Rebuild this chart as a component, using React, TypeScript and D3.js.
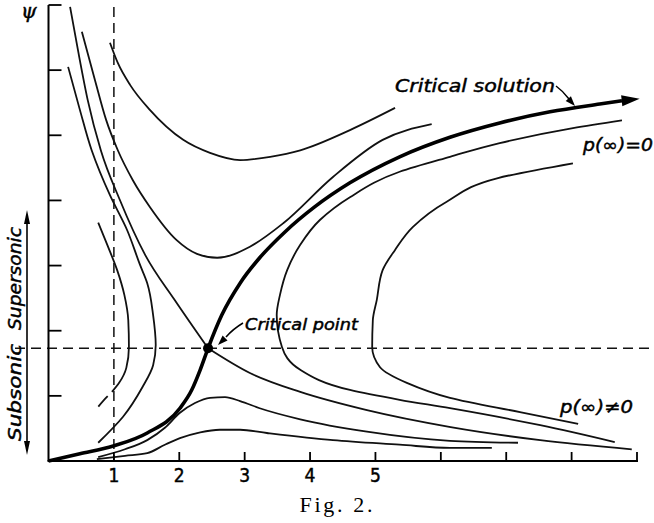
import * as d3 from "d3";

type Pt = [number, number];

// axis ticks (r on x, psi on y)
const xTicks = [1, 2, 3, 4, 5, 6, 7, 8, 9];
const xTickLabels = ["1", "2", "3", "4", "5"];
const yTicks = [1, 2, 3, 4, 5, 6, 7];

// critical point and the two dashed guides
const criticalPoint: Pt = [2.44, 1.73];
const guideX = 1;
const guidePsi = 1.73;

// thick critical solution, ends in an arrow
const criticalSolution: Pt[] = [
  [0, 0], [0.48, 0.11], [0.99, 0.23], [1.51, 0.43], [2.01, 0.81], [2.19, 1.09],
  [2.32, 1.4], [2.44, 1.73], [2.65, 2.24], [2.93, 2.73], [3.23, 3.12],
  [3.62, 3.52], [4.07, 3.9], [4.61, 4.27], [5.37, 4.67], [6.14, 4.97],
  [6.9, 5.19], [7.67, 5.36], [8.43, 5.48], [8.77, 5.53],
];
const criticalTip: Pt = [9.04, 5.56];

// the other critical curve, drawn in two halves meeting at the X point
const separatrixIn: Pt[] = [
  [0.33, 6.97], [0.45, 6.31], [0.6, 5.54], [0.8, 4.77], [1.09, 4.01],
  [1.48, 3.16], [1.93, 2.47], [2.44, 1.73],
];
const separatrixOut: Pt[] = [
  [2.44, 1.73], [3.08, 1.35], [3.85, 1.06], [4.87, 0.78], [6.15, 0.52],
  [7.52, 0.32], [8.92, 0.18],
];

const upperBranch: Pt[] = [
  [0.94, 6.42], [1.06, 6.11], [1.25, 5.77], [1.55, 5.39], [2.06, 4.93],
  [2.47, 4.73], [2.93, 4.62], [3.39, 4.67], [3.85, 4.77], [4.61, 5.08],
  [5.3, 5.42],
];

const lowerBranch: Pt[] = [
  [0.51, 6.59], [0.71, 5.85], [0.88, 5.24], [1.06, 4.77], [1.29, 4.31],
  [1.55, 3.9], [1.96, 3.39], [2.27, 3.18], [2.58, 3.12], [3.08, 3.29],
  [3.59, 3.65], [4.35, 4.36], [5.11, 4.93], [5.86, 5.17],
];

const humpHigh: Pt[] = [
  [0.76, 0.06], [1.17, 0.18], [1.51, 0.32], [1.78, 0.51], [2.01, 0.74],
  [2.24, 0.89], [2.47, 0.97], [2.7, 0.98], [2.93, 0.92], [3.23, 0.81],
  [3.85, 0.64], [4.87, 0.45], [6.14, 0.31], [7.18, 0.28],
];

const humpLow: Pt[] = [
  [0.74, 0.03], [1.17, 0.08], [1.51, 0.12], [1.78, 0.25], [2.01, 0.35],
  [2.32, 0.44], [2.62, 0.48], [2.93, 0.48], [3.34, 0.43], [4.35, 0.32],
  [5.37, 0.25], [6.14, 0.2], [6.78, 0.2],
];

// loops that turn back in r (monotone in psi)
const innerLoop: Pt[] = [
  [0.76, 3.66], [0.91, 3.29], [1.05, 2.93], [1.16, 2.55], [1.22, 2.16],
  [1.23, 1.75], [1.19, 1.43], [1.08, 1.2], [0.97, 1.06],
];
const innerLoopDashed: Pt[] = [[0.97, 1.06], [0.89, 0.98], [0.74, 0.81]];

const middleLoop: Pt[] = [
  [0.3, 6.05], [0.48, 5.39], [0.66, 4.77], [0.94, 4.08], [1.2, 3.55],
  [1.4, 3.01], [1.51, 2.73], [1.6, 2.24], [1.64, 1.78], [1.6, 1.47],
  [1.44, 1.14], [1.14, 0.68], [0.76, 0.28],
];

const outerLoop: Pt[] = [
  [8.77, 5.23], [8.02, 5.11], [6.9, 4.88], [6.14, 4.67], [5.37, 4.44],
  [4.61, 4.05], [4.15, 3.7], [3.85, 3.32], [3.65, 2.93], [3.54, 2.55],
  [3.49, 2.24], [3.57, 1.75], [3.85, 1.4], [4.61, 1.09], [5.37, 0.94],
  [6.14, 0.81], [7.52, 0.55], [8.66, 0.29],
];

const farLoop: Pt[] = [
  [8.02, 4.57], [6.86, 4.34], [6.09, 3.98], [5.57, 3.59], [5.3, 3.24],
  [5.11, 2.93], [5.02, 2.47], [4.96, 2.16], [4.95, 1.75], [5.07, 1.44],
  [5.48, 1.2], [6.14, 0.97], [7.21, 0.75], [8.1, 0.57],
];

const curvesInR = [upperBranch, lowerBranch, separatrixIn, separatrixOut, humpHigh, humpLow];
const curvesInPsi = [innerLoop, middleLoop, outerLoop, farLoop];

const W = 654;
const H = 523;

const x = d3.scaleLinear().domain([0, 9]).range([48.5, 637]);
const y = d3.scaleLinear().domain([0, 7]).range([461, 5]);

const lineR = d3
  .line<Pt>()
  .x((d) => x(d[0]))
  .y((d) => y(d[1]))
  .curve(d3.curveMonotoneX);

const linePsi = d3
  .line<Pt>()
  .x((d) => x(d[0]))
  .y((d) => y(d[1]))
  .curve(d3.curveMonotoneY);

function arrowHead(tx: number, ty: number, fx: number, fy: number, len: number, half: number) {
  const dx = tx - fx;
  const dy = ty - fy;
  const n = Math.hypot(dx, dy) || 1;
  const ux = dx / n;
  const uy = dy / n;
  const bx = tx - ux * len;
  const by = ty - uy * len;
  return `M${tx},${ty}L${bx - uy * half},${by + ux * half}L${bx + uy * half},${by - ux * half}Z`;
}

const labelFont = "'DejaVu Sans', sans-serif";
const ink = { fill: "#000", stroke: "#000", strokeWidth: 0.45 };

export default function App() {
  const last = criticalSolution[criticalSolution.length - 1];
  const x0 = x(0);
  const y0 = y(0);

  return (
    <svg
      width={W}
      height={H}
      style={{ position: "absolute", left: 0, top: 0, background: "#fff" }}
    >
      {/* dashed guides */}
      <line
        x1={x(guideX)} x2={x(guideX)} y1={y(7) + 2} y2={y0}
        stroke="#111" strokeWidth={1.5} strokeDasharray="10 6"
      />
      <line
        x1={15} x2={W} y1={y(guidePsi)} y2={y(guidePsi)}
        stroke="#111" strokeWidth={1.5} strokeDasharray="10 6"
      />

      {/* family of solutions */}
      {curvesInR.map((c, i) => (
        <path key={`r${i}`} d={lineR(c) ?? ""} fill="none" stroke="#111" strokeWidth={1.8} />
      ))}
      {curvesInPsi.map((c, i) => (
        <path key={`p${i}`} d={linePsi(c) ?? ""} fill="none" stroke="#111" strokeWidth={1.8} />
      ))}
      <path
        d={lineR(innerLoopDashed) ?? ""} fill="none" stroke="#111"
        strokeWidth={1.8} strokeDasharray="0 6 14 20"
      />
      <path d={lineR(criticalSolution) ?? ""} fill="none" stroke="#000" strokeWidth={3.6} />
      <path
        d={arrowHead(x(criticalTip[0]), y(criticalTip[1]), x(last[0]), y(last[1]), 18, 5.5)}
        fill="#000"
      />
      <circle cx={x(criticalPoint[0])} cy={y(criticalPoint[1])} r={5} fill="#000" />

      {/* axes */}
      <line x1={x0} x2={x0} y1={y(7)} y2={y0} stroke="#000" strokeWidth={2} />
      <line x1={x0 - 1} x2={x(9) + 1} y1={y0} y2={y0} stroke="#000" strokeWidth={2} />
      {yTicks.map((t) => (
        <line key={t} x1={x0} x2={x0 + 13} y1={y(t)} y2={y(t)} stroke="#000" strokeWidth={1.8} />
      ))}
      {xTicks.map((t) => (
        <line key={t} x1={x(t)} x2={x(t)} y1={y0} y2={y0 - 9} stroke="#000" strokeWidth={1.8} />
      ))}
      {xTickLabels.map((t, i) => (
        <text
          key={t} x={x(i + 1)} y={482} textAnchor="middle" fontSize={19}
          fontFamily="'Liberation Sans Narrow', 'DejaVu Sans Condensed', sans-serif"
          {...ink}
        >
          {t}
        </text>
      ))}
      <text x={21} y={18} fontSize={20} fontStyle="italic" fontFamily="'DejaVu Serif', serif" {...ink}>
        ψ
      </text>

      {/* subsonic / supersonic marker */}
      <line x1={27} x2={27} y1={220} y2={446} stroke="#000" strokeWidth={1.6} />
      <path d={arrowHead(27, 210, 27, 230, 14, 3)} fill="#000" />
      <path d={arrowHead(27, 455, 27, 435, 14, 3)} fill="#000" />
      <text
        transform="translate(21,330) rotate(-90)" fontSize={17} fontStyle="italic"
        fontFamily={labelFont} textLength={103} lengthAdjust="spacingAndGlyphs" {...ink}
      >
        Supersonic
      </text>
      <text
        transform="translate(21,441) rotate(-90)" fontSize={17} fontStyle="italic"
        fontFamily={labelFont} textLength={97} lengthAdjust="spacingAndGlyphs" {...ink}
      >
        Subsonic
      </text>

      {/* annotations */}
      <text
        x={395} y={92} fontSize={17} fontStyle="italic" fontFamily={labelFont}
        textLength={160} lengthAdjust="spacingAndGlyphs" {...ink}
      >
        Critical solution
      </text>
      <path d="M556,86 Q563,91 569,99" fill="none" stroke="#000" strokeWidth={1.5} />
      <path d={arrowHead(575, 106, 566, 96, 10, 3.5)} fill="#000" />

      <text
        x={245} y={330} fontSize={15} fontStyle="italic" fontFamily={labelFont}
        textLength={113} lengthAdjust="spacingAndGlyphs" {...ink}
      >
        Critical point
      </text>
      <path d="M243,323 Q233,329 226,337" fill="none" stroke="#000" strokeWidth={1.5} />
      <path d={arrowHead(218, 345, 229, 334, 10, 3.5)} fill="#000" />

      <text
        x={583} y={151} fontSize={17} fontStyle="italic" fontFamily={labelFont}
        textLength={70} lengthAdjust="spacingAndGlyphs" {...ink}
      >
        p(∞)=0
      </text>
      <text
        x={560} y={413} fontSize={17} fontStyle="italic" fontFamily={labelFont}
        textLength={73} lengthAdjust="spacingAndGlyphs" {...ink}
      >
        p(∞)≠0
      </text>

      <text
        x={336} y={512} textAnchor="middle" fontSize={22}
        fontFamily="'Liberation Serif', serif" textLength={73} lengthAdjust="spacing" fill="#000"
      >
        Fig. 2.
      </text>
    </svg>
  );
}
